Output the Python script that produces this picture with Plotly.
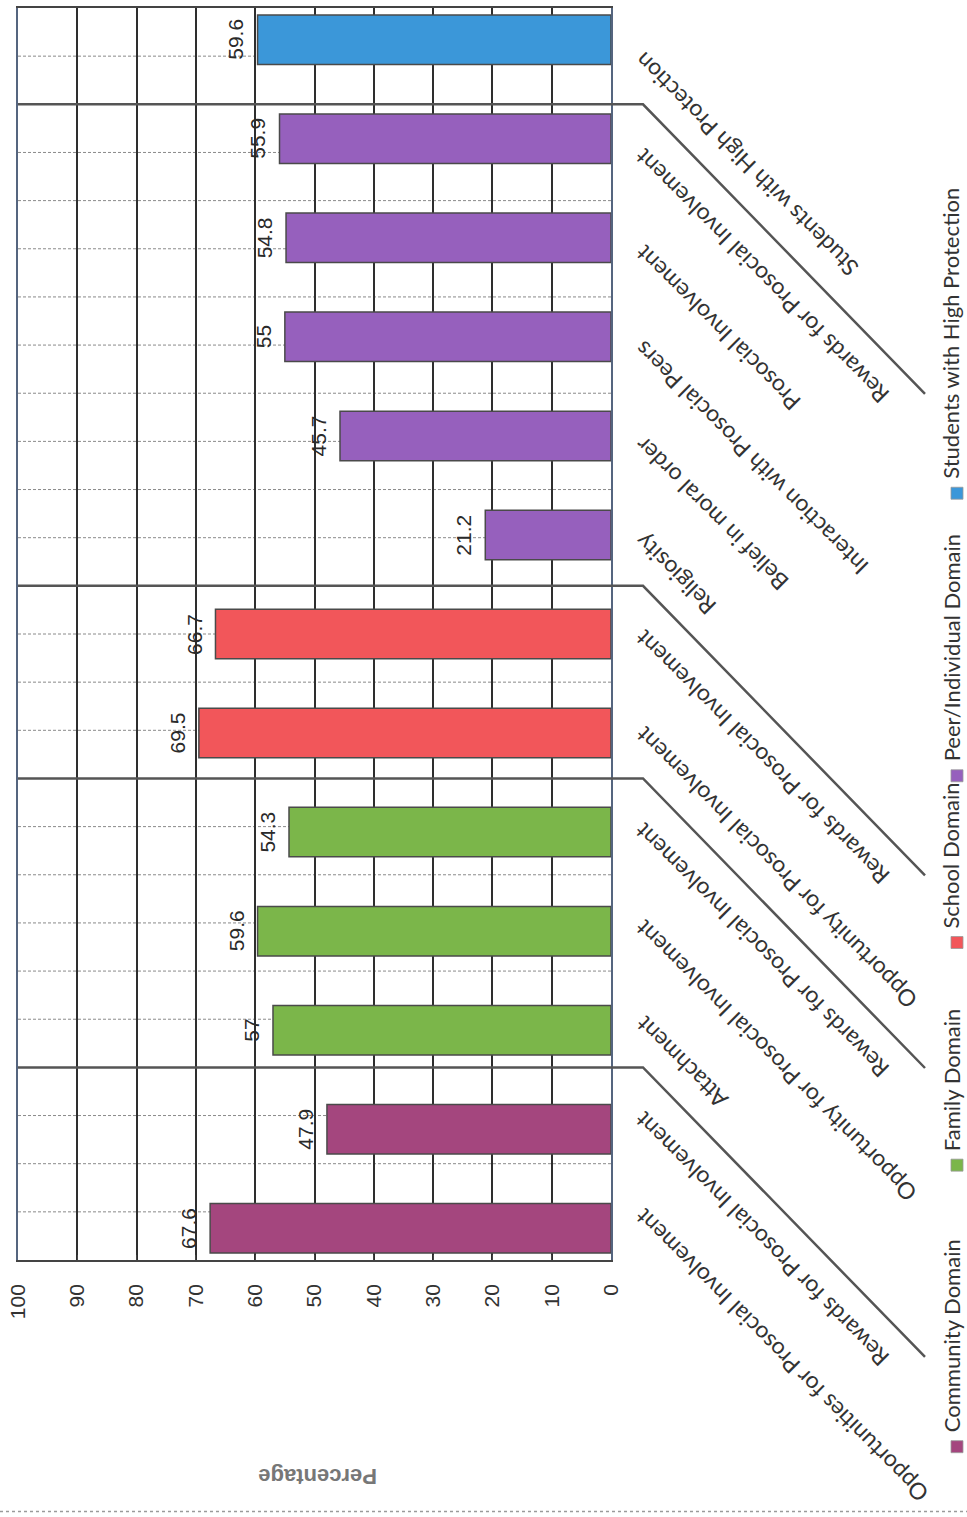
import plotly.graph_objects as go

# ---------------- data ----------------
categories = [
    "Opportunities for Prosocial Involvement",
    "Rewards for Prosocial Involvement",
    "Attachment",
    "Opportunity for Prosocial Involvement",
    "Rewards for Prosocial Involvement",
    "Opportunity for Prosocial Involvement",
    "Rewards for Prosocial Involvement",
    "Religiosity",
    "Belief in moral order",
    "Interaction with Prosocial Peers",
    "Prosocial Involvement",
    "Rewards for Prosocial Involvement",
    "Students with High Protection",
]
values = [67.6, 47.9, 57, 59.6, 54.3, 69.5, 66.7, 21.2, 45.7, 55, 54.8, 55.9, 59.6]
domains = ["Community Domain", "Family Domain", "School Domain",
           "Peer/Individual Domain", "Students with High Protection"]
domain_sizes = [2, 3, 2, 5, 1]
value_ticks = list(range(0, 101, 10))
axis_title = "Percentage"

# ---------------- style ----------------
colors = ["#a4467e", "#7bb64a", "#f2565a", "#9660bd", "#3b97d9"]
W, H = 967, 1517
L, R, T, B = 18, 611, 6, 1260
NCAT = len(categories)


def px(x):
    return (x - L) / (R - L)


def py(y):
    return (B - y) / (B - T)


domain_of = []
for d, n in enumerate(domain_sizes):
    domain_of += [d] * n

fig = go.Figure()
for d, name in enumerate(domains):
    idx = [i for i in range(NCAT) if domain_of[i] == d]
    fig.add_trace(go.Bar(
        x=[values[i] for i in idx], y=idx, orientation="h", name=name,
        width=0.5, marker=dict(color=colors[d], line=dict(color="#4a4a4a", width=1.5)),
        showlegend=False, hoverinfo="x+name",
    ))

shapes = []
# back-wall dashed grid (2 strips per category)
cum = []
s = 0
for n in domain_sizes[:-1]:
    s += n
    cum.append(s)
group_k = [2 * c for c in cum]
for k in range(1, 2 * NCAT):
    if k in group_k:
        continue
    shapes.append(dict(type="line", xref="paper", yref="paper", x0=0, x1=1,
                       y0=k / (2 * NCAT), y1=k / (2 * NCAT), layer="below",
                       line=dict(color="#8a8a8a", width=1, dash="3px,2px")))
# group separators with diagonal extension
drop = 290 / (B - T)
for c in cum:
    yv = c / NCAT
    shapes.append(dict(type="path", xref="paper", yref="paper",
                       path=f"M {px(L)},{yv} L {px(643)},{yv} L {px(925)},{yv - drop}",
                       line=dict(color="#555555", width=2.5)))
# page edge line
shapes.append(dict(type="line", xref="paper", yref="paper", x0=px(0), x1=px(W),
                   y0=py(1512), y1=py(1512), line=dict(color="#9a9a9a", width=1.5, dash="dot")))

annotations = []
# data labels
for i, v in enumerate(values):
    annotations.append(dict(x=v, y=i, xref="x", yref="y", text=f"{v:g}", showarrow=False,
                            textangle=-90, xanchor="right", yanchor="middle", xshift=-8,
                            font=dict(family="Liberation Sans", size=21, color="#2a2a2a")))
# category labels (angled, upside down like the rotated scan)
for i, c in enumerate(categories):
    annotations.append(dict(x=0, y=(i + 0.5) / NCAT, xref="x", yref="y domain", text=c,
                            showarrow=False, textangle=-135, xanchor="left", yanchor="top",
                            xshift=15, yshift=12,
                            font=dict(family="Lato", size=23, color="#333333")))
# axis title
annotations.append(dict(x=px(318), y=py(1492), xref="paper", yref="paper", text=f"<b>{axis_title}</b>",
                        showarrow=False, textangle=180,
                        font=dict(family="Liberation Sans", size=22, color="#777777")))
# legend (rotated)
leg_square_y = [1447, 1165, 942, 775, 492]
for d, name in enumerate(domains):
    sy = leg_square_y[d]
    shapes.append(dict(type="rect", xref="paper", yref="paper", x0=px(951), x1=px(963),
                       y0=py(sy + 6), y1=py(sy - 6), fillcolor=colors[d],
                       line=dict(color="#999999", width=0.8)))
    annotations.append(dict(x=px(951), y=py(sy - 12), xref="paper", yref="paper", text=name,
                            showarrow=False, textangle=-90, xanchor="center", yanchor="bottom",
                            font=dict(family="Lato", size=22, color="#333333")))

fig.update_layout(
    width=W, height=H, barmode="overlay",
    margin=dict(l=L, r=W - R, t=T, b=H - B),
    paper_bgcolor="white", plot_bgcolor="white",
    xaxis=dict(range=[100, 0], tickvals=value_ticks, ticktext=[str(t) for t in value_ticks],
               tickangle=-90, showgrid=True, gridcolor="#2e2e2e", gridwidth=1.5,
               showline=True, linecolor="#444444", linewidth=1.5, mirror=True,
               ticks="inside", ticklen=5, tickcolor="#444444", ticklabelstandoff=14,
               tickfont=dict(family="Liberation Sans", size=21, color="#333333"),
               zeroline=False, fixedrange=True),
    yaxis=dict(range=[-0.32, NCAT - 1 + 0.32], side="right", showticklabels=False,
               showgrid=False, zeroline=False, showline=True, linecolor="#55657f",
               linewidth=1.5, mirror=True, fixedrange=True),
    shapes=shapes, annotations=annotations,
)

fig.write_html("out.html")
